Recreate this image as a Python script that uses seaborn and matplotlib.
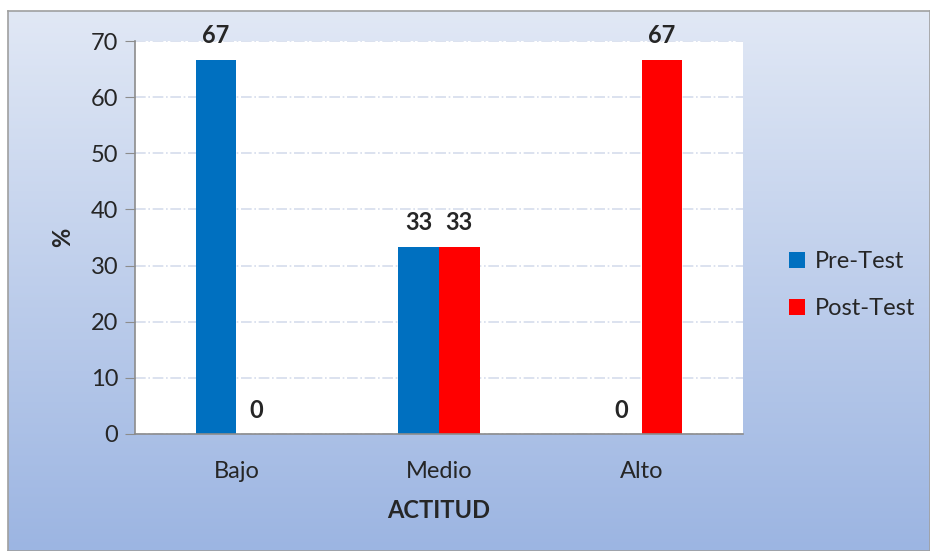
import numpy as np
import pandas as pd
import seaborn as sns
import matplotlib.pyplot as plt
from matplotlib.colors import LinearSegmentedColormap

categorias = ["Bajo", "Medio", "Alto"]
pre_test = [66.67, 33.33, 0.0]
post_test = [0.0, 33.33, 66.67]
series = ["Pre-Test", "Post-Test"]
colores = ["#0070C0", "#FF0000"]

df = pd.DataFrame({
    "ACTITUD": categorias * 2,
    "valor": pre_test + post_test,
    "grupo": [series[0]] * 3 + [series[1]] * 3,
})

sns.set_style("white")
plt.rcParams["font.family"] = ["Lato", "DejaVu Sans"]

fig = plt.figure(figsize=(9.3, 5.51), dpi=100)
fig.patch.set_facecolor("white")

# fondo degradado del area del grafico
bg = fig.add_axes([8 / 930, 0, 1 - 8 / 930, 1 - 11 / 551], zorder=-5)
grad = np.linspace(0, 1, 256).reshape(-1, 1)
cmap = LinearSegmentedColormap.from_list("bg", ["#E1E8F5", "#9CB5E2"])
bg.imshow(grad, aspect="auto", cmap=cmap, extent=[0, 1, 0, 1], origin="upper")
bg.set_xticks([])
bg.set_yticks([])
for s in bg.spines.values():
    s.set_color("#A0A0A0")
    s.set_linewidth(1.2)

ax = fig.add_axes([135 / 930, 1 - 434 / 551, (743 - 135) / 930, (434 - 41) / 551])
sns.barplot(data=df, x="ACTITUD", y="valor", hue="grupo", palette=colores,
            width=0.4, saturation=1, linewidth=0, ax=ax)

ax.set_facecolor("white")
ax.set_ylim(0, 70)
ax.set_xlim(-0.5, 2.5)
ax.set_yticks(range(0, 71, 10))
ax.yaxis.grid(True, color="#D5DDEC", linestyle="-.", linewidth=1.2)
ax.set_axisbelow(True)
for s in ["top", "right"]:
    ax.spines[s].set_visible(False)
for s in ["left", "bottom"]:
    ax.spines[s].set_color("#8C8C8C")
    ax.spines[s].set_linewidth(1.2)
ax.tick_params(axis="y", left=True, length=7, color="#8C8C8C", labelsize=17, pad=5)
ax.tick_params(axis="x", bottom=False, labelsize=17, pad=16)
ax.set_ylabel("%", fontsize=17, fontweight="bold", labelpad=12)
ax.set_xlabel("ACTITUD", fontsize=17, fontweight="bold", labelpad=12)

for cont in ax.containers:
    ax.bar_label(cont, labels=[f"{v:.0f}" for v in cont.datavalues],
                 fontsize=17, fontweight="bold", padding=9)

ax.legend(loc="center left", bbox_to_anchor=(1.04, 0.379), frameon=False,
          fontsize=17, handlelength=0.7, handleheight=0.7, handletextpad=0.4,
          labelspacing=1.1)

fig.savefig("out.png", dpi=100)
